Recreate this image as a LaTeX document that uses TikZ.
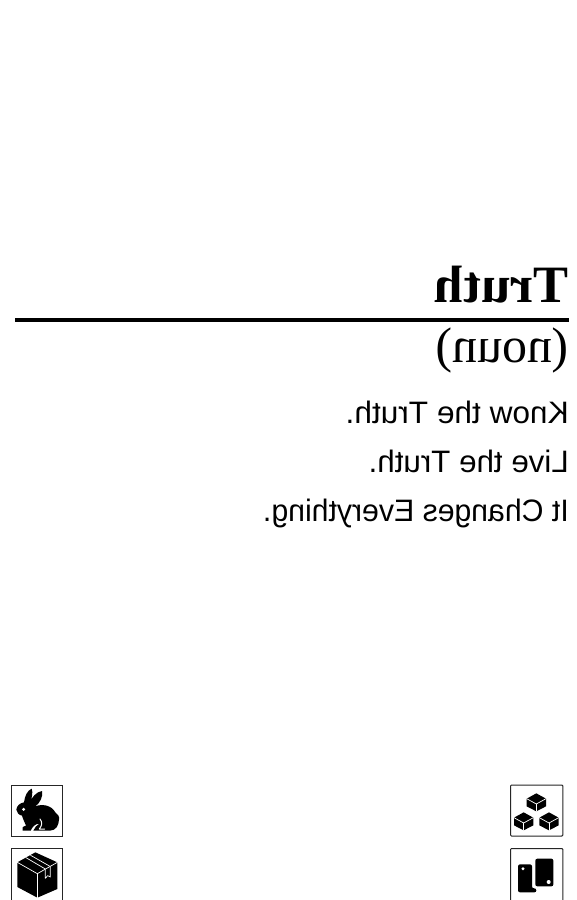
\documentclass[tikz,border=0pt]{standalone}
\usepackage{fontspec}
\setmainfont[Kerning=Off]{Liberation Serif}
\newfontfamily\linefont[Kerning=Off]{Liberation Sans}

\begin{document}
\begin{tikzpicture}[
    x=1pt, y=-1pt,
    word/.style={anchor=base east, inner sep=0pt},
    titleword/.style={word, font=\fontsize{52.5}{53}\selectfont\bfseries},
    nounword/.style={word, font=\fontsize{50}{50}\selectfont},
    lineword/.style={word, font=\fontsize{31}{31}\selectfont\linefont},
    tile/.style={draw=black!85, line width=1pt, fill=white},
    gap/.style={draw=white, line width=.7pt, line cap=round, line join=round},
    icon/.style={fill=black, line join=round}
]
\useasboundingbox (0,0) rectangle (576,900);
\node[titleword] (title) at (569,302) {\reflectbox{Truth}};
\node[nounword] (noun) at (569,362) {\reflectbox{(noun)}};
\node[lineword] (know) at (569,423) {\scalebox{-1.02}[1]{Know the Truth.}};
\node[lineword] (live) at (569,472) {\scalebox{-1.01}[1]{Live the Truth.}};
\node[lineword] (change) at (569,521) {\scalebox{-.975}[1]{It Changes Everything.}};
\draw[line width=4pt] (15,320) -- (569,320);

\draw[tile] (11.5,785) rectangle (62.8,836);
\draw[tile] (11.5,848.5) rectangle (62.8,902);
\draw[tile, rounded corners=1pt] (510.5,785) rectangle (562.8,836);
\draw[tile, rounded corners=1pt] (510.5,848.5) rectangle (562.8,902);

\begin{scope}[shift={(0,775)}, scale=1/3]
\fill[icon] (49,104) .. controls (50,92) and (60,84) .. (72,82)
    .. controls (74,64) and (82,46) .. (95,41)
    .. controls (99,52) and (97,68) .. (89,84)
    .. controls (95,66) and (110,50) .. (126,48)
    .. controls (130,64) and (120,84) .. (106,94)
    .. controls (126,86) and (154,90) .. (166,112)
    .. controls (172,118) and (180,124) .. (177,134)
    .. controls (176,152) and (168,166) .. (150,167)
    -- (100,167) .. controls (104,158) and (110,150) .. (118,146)
    .. controls (106,146) and (98,154) .. (92,167)
    -- (68,167) .. controls (64,160) and (68,154) .. (78,152)
    .. controls (74,142) and (68,130) .. (66,122)
    .. controls (56,120) and (50,112) .. (49,104) -- cycle;
\fill[white] (71,103) circle (5);
\draw[gap, line width=1pt] (120,132) .. controls (128,142) and (126,152) .. (118,162) -- (134,162);
\end{scope}

\begin{scope}[shift={(0,775)}, scale=1/3]
\fill[icon] (106,232) -- (172,262) -- (172,342) -- (112,368) -- (52,336) -- (52,262) -- cycle;
\draw[gap] (52,262) -- (112,296) -- (172,262);
\draw[gap] (112,296) -- (112,368);
\draw[gap] (78,248) -- (136,282);
\draw[gap] (92,241) -- (150,274);
\draw[gap] (136,284) -- (136,310) -- (143,302) -- (151,306) -- (151,276);
\end{scope}

\begin{scope}[shift={(496,775)}, scale=1/3]
\foreach \cx/\cy in {121/82, 83/139, 159/139} {
    \fill[icon] (\cx,\cy-27) -- (\cx+29,\cy-11) -- (\cx+29,\cy+12) -- (\cx,\cy+27) -- (\cx-29,\cy+12) -- (\cx-29,\cy-11) -- cycle;
    \draw[gap] (\cx-29,\cy-11) -- (\cx,\cy+5) -- (\cx+29,\cy-11);
    \draw[gap] (\cx,\cy+5) -- (\cx,\cy+27);
}
\end{scope}

\begin{scope}[shift={(496,775)}, scale=1/3]
\fill[icon, rounded corners=2pt] (118,251) rectangle (172,334);
\fill[icon, rounded corners=2pt] (66,268) -- (108,268) -- (108,340) -- (121,340) -- (121,352) -- (66,352) -- cycle;
\fill[white] (81,281) circle (5);
\fill[white] (158,321) circle (6);
\end{scope}
\end{tikzpicture}
\end{document}
